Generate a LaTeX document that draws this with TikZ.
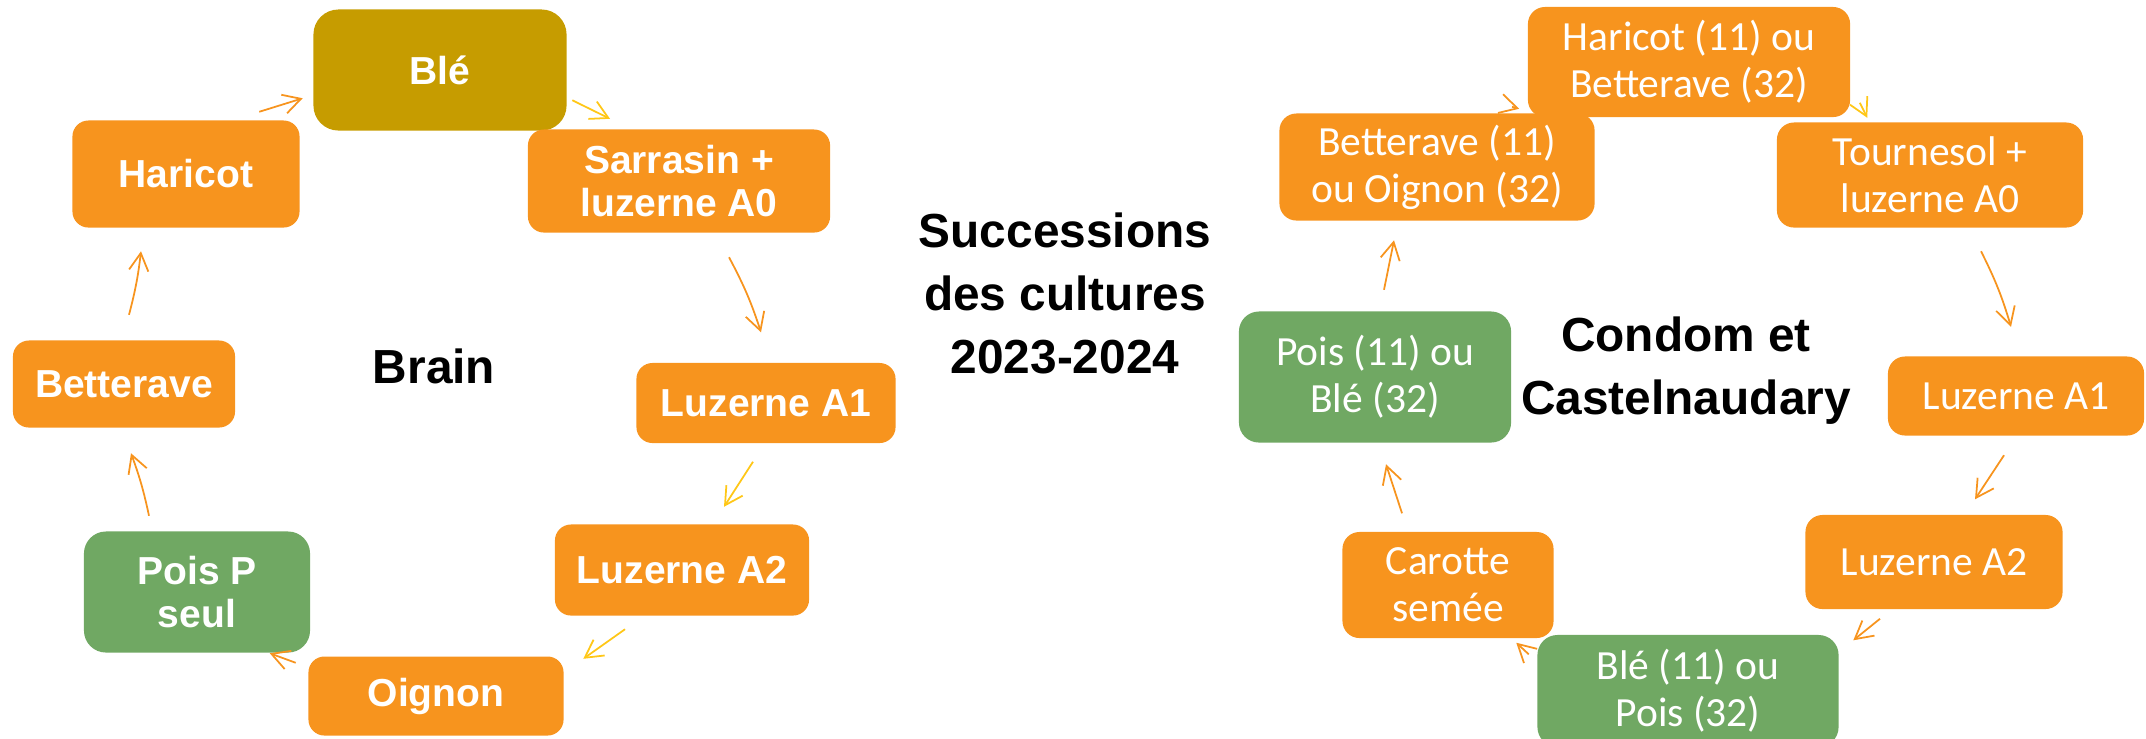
\documentclass[tikz,border=0pt]{standalone}
\usepackage{fontspec}
\setmainfont{Liberation Sans}
\newfontfamily\carlito{Carlito}
\usetikzlibrary{calc}
\usetikzlibrary{arrows.meta}
\definecolor{myorange}{rgb}{0.969,0.580,0.118}
\definecolor{myolive}{rgb}{0.776,0.612,0.000}
\definecolor{mygreen}{rgb}{0.439,0.659,0.388}
\definecolor{myyellow}{rgb}{1.000,0.780,0.090}

\begin{document}
\begin{tikzpicture}[%
  >={Straight Barb[length=5pt,width=5.5pt]},
  x=0.01cm, y=-0.01cm,
  cropbold/.style={fill=myorange, text=white, rounded corners=0.16cm, inner sep=0pt,
    align=center, font=\fontsize{11.1}{12.2}\selectfont\bfseries},
  croplight/.style={fill=myorange, text=white, rounded corners=0.17cm, inner sep=0pt,
    align=center, font=\carlito\fontsize{11.8}{13.4}\selectfont},
  sitetitle/.style={align=center, inner sep=0pt, font=\fontsize{13.6}{17.9}\selectfont\bfseries},
  arro/.style={->, line width=0.5pt, myorange},
  arry/.style={->, line width=0.5pt, myyellow},
]

  \clip (0,0) rectangle (2146,738);

  % Brain
  \node[cropbold, fill=myolive, rounded corners=0.25cm, minimum width=2.53cm, minimum height=1.21cm] (ble) at (440,70) {Blé};
  \node[cropbold, minimum width=3.02cm, minimum height=1.03cm] (sarrasin) at (679,181) {Sarrasin +\\luzerne A0};
  \node[cropbold, minimum width=2.27cm, minimum height=1.07cm] (haricot) at (186,174) {Haricot};
  \node[cropbold, minimum width=2.22cm, minimum height=0.87cm] (betterave) at (124,384) {Betterave};
  \node[cropbold, minimum width=2.59cm, minimum height=0.80cm] (luzA1) at (766,403) {Luzerne A1};
  \node[cropbold, minimum width=2.54cm, minimum height=0.91cm] (luzA2) at (682,570) {Luzerne A2};
  \node[cropbold, fill=mygreen, rounded corners=0.22cm, minimum width=2.26cm, minimum height=1.21cm] (pois) at (197,592) {Pois P\\seul};
  \node[cropbold, minimum width=2.55cm, minimum height=0.79cm] (oignon) at (436,696) {Oignon};

  \node[sitetitle] (brain) at (434,366) {Brain};
  \node[sitetitle] (succ) at (1065,293) {Successions\\des cultures\\2023-2024};

  % Condom et Castelnaudary
  \node[croplight, minimum width=3.22cm, minimum height=1.10cm] (haricotB) at (1689,62) {Haricot (11) ou\\Betterave (32)};
  \node[croplight, minimum width=3.15cm, minimum height=1.07cm] (bettB) at (1437,167) {Betterave (11)\\ou Oignon (32)};
  \node[croplight, minimum width=3.06cm, minimum height=1.05cm] (tournesol) at (1930,175) {Tournesol +\\luzerne A0};
  \node[croplight, fill=mygreen, rounded corners=0.2cm, minimum width=2.72cm, minimum height=1.31cm] (poisB) at (1375,377) {Pois (11) ou\\Blé (32)};
  \node[croplight, minimum width=2.56cm, minimum height=0.79cm] (luzA1b) at (2016,396) {Luzerne A1};
  \node[croplight, minimum width=2.57cm, minimum height=0.94cm] (luzA2b) at (1934,562) {Luzerne A2};
  \node[croplight, minimum width=2.11cm, minimum height=1.06cm] (carotte) at (1448,585) {Carotte\\semée};
  \node[croplight, fill=mygreen, rounded corners=0.2cm, minimum width=3.01cm, minimum height=1.12cm] (bleB) at (1688,691) {Blé (11) ou\\Pois (32)};

  \node[sitetitle] (condom) at (1686,371) {Condom et\\Castelnaudary};

  \draw[arro] ($(haricot.north east)+(-41,-8)$) -- ($(ble.south west)+(-10,-33)$);
  \draw[arry] ($(ble.south east)+(5,-31)$) -- ($(sarrasin.north)+(-69,-10)$);
  \draw[arro] ($(sarrasin.south)+(50,24)$) to[bend left=5] ($(luzA1.north)+(-5,-30)$);
  \draw[arry] ($(luzA1.south)+(-13,18)$) -- ($(luzA2.north)+(42,-17)$);
  \draw[arry] ($(luzA2.south)+(-57,13)$) -- ($(oignon.north east)+(19,3)$);
  \draw[arro] ($(oignon.north west)+(-12,7)$) -- ($(pois.south east)+(-41,0)$);
  \draw[arro] ($(pois.north)+(-48,-15)$) to[bend right=4] ($(betterave.south)+(7,25)$);
  \draw[arro] ($(betterave.north)+(5,-25)$) to[bend right=4] ($(haricot.south)+(-45,23)$);
  % \draw[arro] (betterave) -- (haricot);

  \draw[arro] ($(bettB.north)+(75,-6)$) -- ($(haricotB.south west)+(-8,-9)$);
  \draw[arry] ($(haricotB.south east)+(9,-15)$) -- ($(tournesol.north west)+(91,-4)$);
  \draw[arro] ($(tournesol.south)+(51,23)$) to[bend left=5] ($(luzA1b.north)+(-5,-29)$);
  \draw[arro] ($(luzA1b.south)+(-12,19)$) -- ($(luzA2b.north)+(41,-15)$);
  \draw[arro] ($(luzA2b.south)+(-54,9)$) -- ($(bleB.north east)+(14,6)$);
  \draw[arro] ($(bleB.north west)+(-8,20)$) -- ($(carotte.south east)+(-38,4)$);
  \draw[arro] ($(carotte.north)+(-46,-18)$) -- ($(poisB.south)+(11,21)$);
  \draw[arro] ($(poisB.north)+(9,-21)$) -- ($(bettB.south)+(-43,19)$);

\end{tikzpicture}
\end{document}
